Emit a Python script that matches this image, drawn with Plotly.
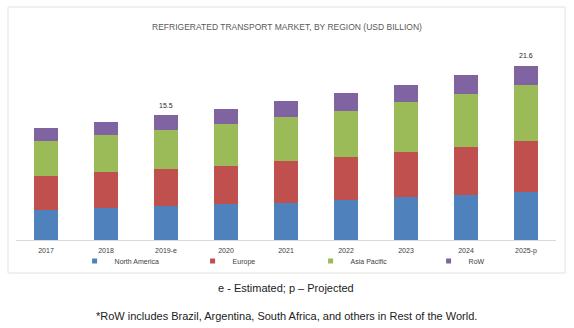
import plotly.graph_objects as go

categories = ["2017", "2018", "2019-e", "2020", "2021", "2022", "2023", "2024", "2025-p"]
north_america = [3.78, 3.95, 4.16, 4.49, 4.62, 4.99, 5.31, 5.61, 5.98]
europe = [4.13, 4.47, 4.68, 4.75, 5.16, 5.33, 5.63, 5.91, 6.28]
asia_pacific = [4.34, 4.55, 4.84, 5.21, 5.42, 5.74, 6.12, 6.58, 6.95]
row = [1.70, 1.70, 1.82, 1.82, 1.99, 2.20, 2.23, 2.32, 2.39]
total_labels = {"2019-e": "15.5", "2025-p": "21.6"}

series = [
    ("North America", north_america, "#4F81BD"),
    ("Europe", europe, "#C0504D"),
    ("Asia Pacific", asia_pacific, "#9BBB59"),
    ("RoW", row, "#8064A2"),
]

fig = go.Figure()
for name, vals, color in series:
    fig.add_trace(go.Bar(x=categories, y=vals, name=name, marker_color=color,
                         marker_line_width=0, width=0.4, legendgroup=name, showlegend=False))
# small square legend keys
for name, vals, color in series:
    fig.add_trace(go.Scatter(x=[None], y=[None], mode="markers", name=name, legendgroup=name,
                             marker=dict(symbol="square", size=5, color=color)))

totals = [a + b + c + d for a, b, c, d in zip(north_america, europe, asia_pacific, row)]
for cat, tot in zip(categories, totals):
    if cat in total_labels:
        fig.add_annotation(x=cat, y=tot, text=total_labels[cat], showarrow=False,
                           yshift=10, font=dict(size=7, color="#262626", family="Liberation Sans"))

fig.add_annotation(xref="paper", yref="paper", x=0.5, y=-0.24, yanchor="middle",
                   text="e - Estimated; p \u2013 Projected",
                   showarrow=False, font=dict(size=11, color="#222222", family="Liberation Sans"))
fig.add_annotation(xref="paper", yref="paper", x=0.5, y=-0.38, yanchor="middle",
                   text="*RoW includes Brazil, Argentina, South Africa, and others in Rest of the World.",
                   showarrow=False, font=dict(size=11, color="#222222", family="Liberation Sans"))

fig.add_shape(type="rect", xref="paper", yref="paper", x0=-0.0148, x1=1.0167, y0=-0.165, y1=1.165,
              line=dict(color="#E2E4DA", width=1), fillcolor="rgba(0,0,0,0)", layer="below")

fig.update_layout(
    width=574, height=328,
    margin=dict(l=16, r=18, t=40, b=88),
    paper_bgcolor="white", plot_bgcolor="white",
    barmode="stack", bargap=0.6,
    title=dict(text="REFRIGERATED TRANSPORT MARKET, BY REGION (USD BILLION)", x=0.5, xanchor="center",
               y=1 - 27 / 328, yanchor="middle", font=dict(size=8.5, color="#595959", family="Liberation Sans")),
    showlegend=True,
    legend=dict(orientation="h", x=0.1085, xanchor="left", y=-0.105, yanchor="middle",
                entrywidth=73, entrywidthmode="pixels", itemwidth=30,
                font=dict(size=7, color="#404040", family="Liberation Sans"),
                bgcolor="rgba(0,0,0,0)", traceorder="normal"),
    xaxis=dict(showline=True, linecolor="#D9D9D9", linewidth=1, ticks="", showgrid=False,
               ticklabelstandoff=4,
               tickfont=dict(size=7, color="#404040", family="Liberation Sans")),
    yaxis=dict(range=[0, 24.81], visible=False, showgrid=False, zeroline=False),
)

fig.write_html("out.html")
